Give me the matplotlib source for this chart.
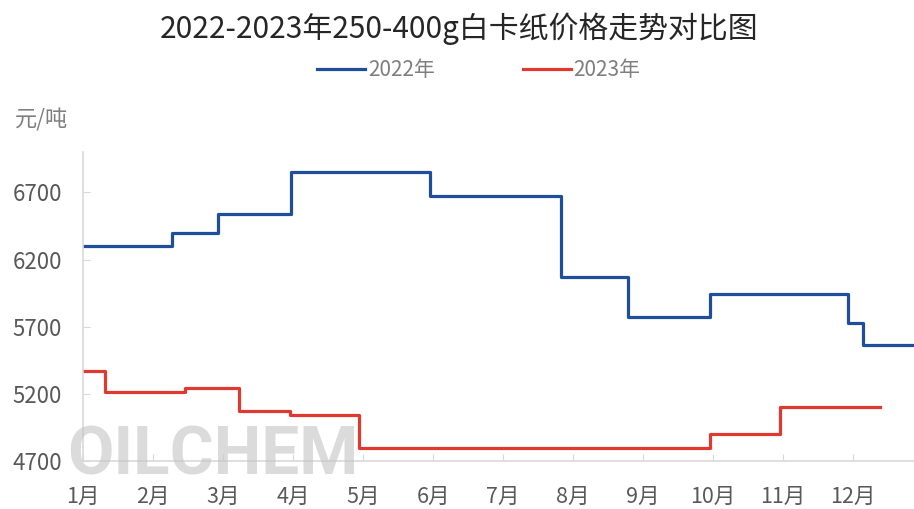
import matplotlib.pyplot as plt

plt.rcParams['font.family'] = ['Noto Sans CJK SC', 'DejaVu Sans']

months = ['1月', '2月', '3月', '4月', '5月', '6月', '7月', '8月', '9月', '10月', '11月', '12月']

# step change points, x in months from Jan 1 (0 = 1月)
x_2022 = [0, 1.27, 1.93, 2.97, 4.96, 6.83, 7.78, 8.96, 10.93, 11.14, 12.0]
y_2022 = [6300, 6400, 6540, 6850, 6670, 6070, 5770, 5940, 5730, 5560, 5560]

x_2023 = [0, 0.31, 1.46, 2.23, 2.95, 3.94, 8.96, 9.96, 11.39]
y_2023 = [5370, 5210, 5240, 5070, 5040, 4800, 4900, 5100, 5100]

yticks = [4700, 5200, 5700, 6200, 6700]

fig = plt.figure(figsize=(9.14, 5.09), dpi=100)
ax = fig.add_axes([0.0908, 0.0943, 0.9092, 0.607])

# watermark behind the lines
fig.text(0.073, 0.104, 'OILCHEM', fontsize=48.5, color='#c4c4c4', alpha=0.6,
         fontweight='bold', ha='left', va='center', family='Roboto', zorder=0)

ax.step(x_2022, y_2022, where='post', color='#1f4e9c', lw=2.3, label='2022年')
ax.step(x_2023, y_2023, where='post', color='#e03a30', lw=2.3, label='2023年')
ax.patch.set_alpha(0)

ax.set_xlim(0, 11.87)
ax.set_ylim(4700, 7000)
ax.set_yticks(yticks)
ax.set_xticks(range(len(months)))
ax.set_xticklabels(months)

for s in ['top', 'right']:
    ax.spines[s].set_visible(False)
for s in ['left', 'bottom']:
    ax.spines[s].set_color('#d9d9d9')
    ax.spines[s].set_linewidth(1.2)

ax.tick_params(axis='x', direction='in', length=5, color='#d9d9d9', labelsize=15.5,
               labelcolor='#595959', pad=18)
ax.tick_params(axis='y', direction='in', length=5, color='#d9d9d9', labelsize=16,
               labelcolor='#595959', pad=15)

fig.text(0.016, 0.765, '元/吨', fontsize=16, color='#7f7f7f', va='center', ha='left')

fig.suptitle('2022-2023年250-400g白卡纸价格走势对比图', x=0.502, y=0.975, fontsize=21.5, color='#262626')

fig.legend(loc='center', bbox_to_anchor=(0.524, 0.862), ncol=2, frameon=False,
           fontsize=15, labelcolor='#7f7f7f', handlelength=2.3, handletextpad=0.15,
           columnspacing=4.2)

fig.savefig('out.png', dpi=100)
